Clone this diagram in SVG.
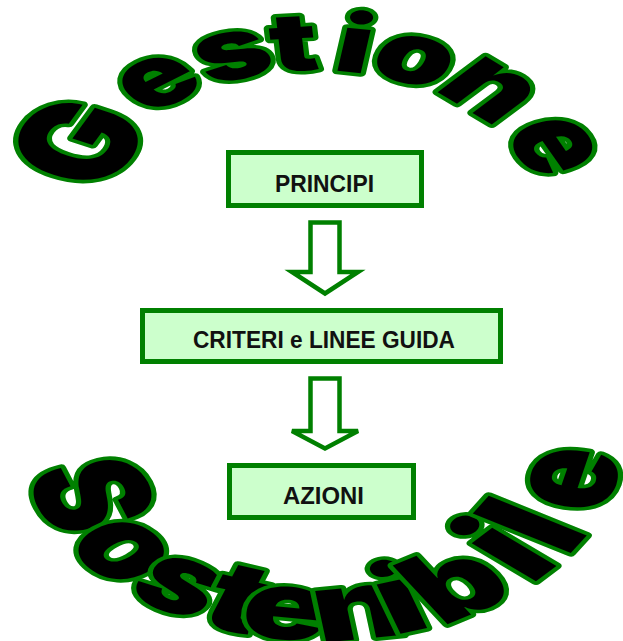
<svg xmlns="http://www.w3.org/2000/svg" width="623" height="641" viewBox="0 0 623 641">
<style>
.wa{font-family:Inter,Lato,"DejaVu Sans",sans-serif;font-weight:900;fill:#000;stroke:#008000;stroke-width:7;paint-order:stroke;stroke-linejoin:round;text-anchor:middle}
.box{fill:#ccffcc;stroke:#008000;stroke-width:5}
.lbl{font-family:"Liberation Sans",Arial,sans-serif;font-weight:bold;font-size:23px;fill:#111;text-anchor:middle}
.arr{fill:#fff;stroke:#008000;stroke-width:4.5;stroke-linejoin:miter}
</style>
<defs>
<path id="arcTop" d="M165.6,206.9 A150,150 0 0 1 464.4,206.9"/>
<path id="arcTopG" d="M177.5,208 A138,138 0 0 1 452.5,208"/>
<path id="arcBot" d="M122.1,447 A200,200 0 0 0 521.9,447"/>
</defs>
<rect width="623" height="641" fill="#fff"/>
<g id="title-top">
<text class="wa" transform="matrix(1.5 0 0 1 -157.5 0)"><textPath href="#arcTopG" startOffset="51" font-size="106">G</textPath><textPath href="#arcTop" startOffset="125.1" font-size="85">e</textPath><textPath href="#arcTop" startOffset="174.1" font-size="85">s</textPath><textPath href="#arcTop" startOffset="210" font-size="80">t</textPath><textPath href="#arcTop" startOffset="245" font-size="80">i</textPath><textPath href="#arcTop" startOffset="280.6" font-size="85">o</textPath><textPath href="#arcTop" startOffset="331.4" font-size="88">n</textPath><textPath href="#arcTop" startOffset="391.9" font-size="92">e</textPath></text>
</g>
<g id="title-bottom">
<text class="wa" transform="matrix(1.5 0 0 1 -161 0)"><textPath href="#arcBot" startOffset="61.1" font-size="104">S</textPath><textPath href="#arcBot" startOffset="131.3" font-size="98">o</textPath><textPath href="#arcBot" startOffset="192" font-size="95">s</textPath><textPath href="#arcBot" startOffset="240.2" font-size="95">t</textPath><textPath href="#arcBot" startOffset="279.6" font-size="95">e</textPath><textPath href="#arcBot" startOffset="336.5" font-size="95">n</textPath><textPath href="#arcBot" startOffset="370" font-size="95">i</textPath><textPath href="#arcBot" startOffset="419" font-size="95">b</textPath><textPath href="#arcBot" startOffset="476.5" font-size="105">i</textPath><textPath href="#arcBot" startOffset="513" font-size="105">l</textPath><textPath href="#arcBot" startOffset="577" font-size="103">e</textPath></text>
</g>
<g id="node-principi">
<rect class="box" x="228.5" y="152.5" width="193" height="53"/>
<text class="lbl" x="324.5" y="192" textLength="99" lengthAdjust="spacingAndGlyphs">PRINCIPI</text>
</g>
<g id="node-criteri">
<rect class="box" x="142.5" y="310.5" width="358" height="51"/>
<text class="lbl" x="324" y="348" textLength="262" lengthAdjust="spacingAndGlyphs">CRITERI e LINEE GUIDA</text>
</g>
<g id="node-azioni">
<rect class="box" x="229.5" y="465.5" width="184" height="52"/>
<text class="lbl" x="323.5" y="504" textLength="81" lengthAdjust="spacingAndGlyphs">AZIONI</text>
</g>
<g id="connectors">
<polygon class="arr" points="310.5,222.5 339.5,222.5 339.5,272 358,272 325,293.5 292,272 310.5,272"/>
<polygon class="arr" points="310.5,378.5 339.5,378.5 339.5,431 358,431 325,448.5 292,431 310.5,431"/>
</g>
</svg>
